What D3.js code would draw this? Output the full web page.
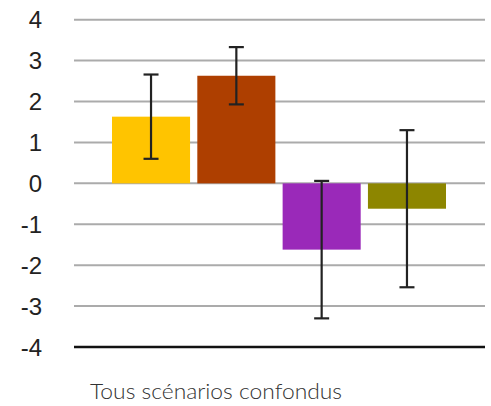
<!DOCTYPE html>
<html><head><meta charset="utf-8">
<script src="https://cdn.jsdelivr.net/npm/d3@7"></script>
<style>body{margin:0;background:#fff}</style>
</head><body>
<script>
const categories = ["Série 1", "Série 2", "Série 3", "Série 4"];
const values = [1.63, 2.63, -1.62, -0.62];
const errors = [1.03, 0.70, 1.68, 1.92];
const colors = ["#FFC400", "#AE3F00", "#9A29B9", "#8D8600"];
const yTicks = [-4, -3, -2, -1, 0, 1, 2, 3, 4];
const xLabel = "Tous scénarios confondus";

const W = 491, H = 406;
const svg = d3.select("body").append("svg").attr("width", W).attr("height", H);

const y = d3.scaleLinear().domain([-4, 4]).range([347, 19.7]);
const x = d3.scaleBand().domain(categories).range([112, 446]).paddingInner(0.085);
const gx0 = 74, gx1 = 485;

// gridlines
svg.append("g").selectAll("line").data(yTicks.filter(t => t !== -4)).join("line")
  .attr("x1", gx0).attr("x2", gx1)
  .attr("y1", d => y(d)).attr("y2", d => y(d))
  .attr("stroke", "#ababab").attr("stroke-width", 2);

// tick labels
svg.append("g").selectAll("text").data(yTicks).join("text")
  .attr("x", 42).attr("y", d => y(d))
  .attr("dy", "0.36em")
  .attr("text-anchor", "end")
  .attr("font-family", "Liberation Sans, Arial, sans-serif")
  .attr("font-size", 24)
  .attr("fill", "#222")
  .text(d => d);

// bars
svg.append("g").selectAll("rect").data(categories).join("rect")
  .attr("x", d => x(d))
  .attr("width", x.bandwidth())
  .attr("y", (d, i) => y(Math.max(0, values[i])))
  .attr("height", (d, i) => Math.abs(y(values[i]) - y(0)))
  .attr("fill", (d, i) => colors[i]);

// baseline at -4
svg.append("line").attr("x1", gx0).attr("x2", gx1)
  .attr("y1", y(-4)).attr("y2", y(-4))
  .attr("stroke", "#111").attr("stroke-width", 2.5);

// error bars
const eb = svg.append("g").attr("stroke", "#222").attr("stroke-width", 2.2);
categories.forEach((c, i) => {
  const cx = x(c) + x.bandwidth() / 2;
  const hi = y(values[i] + errors[i]), lo = y(values[i] - errors[i]);
  eb.append("line").attr("x1", cx).attr("x2", cx).attr("y1", hi).attr("y2", lo);
  eb.append("line").attr("x1", cx - 7.5).attr("x2", cx + 7.5).attr("y1", hi).attr("y2", hi);
  eb.append("line").attr("x1", cx - 7.5).attr("x2", cx + 7.5).attr("y1", lo).attr("y2", lo);
});

// x label
svg.append("text")
  .attr("x", 90).attr("y", 399)
  .attr("font-family", "Lato, 'Open Sans', sans-serif")
  .attr("font-weight", 300)
  .attr("font-size", 22)
  .attr("fill", "#333")
  .attr("textLength", 252)
  .attr("lengthAdjust", "spacingAndGlyphs")
  .text(xLabel);
</script>
</body></html>
